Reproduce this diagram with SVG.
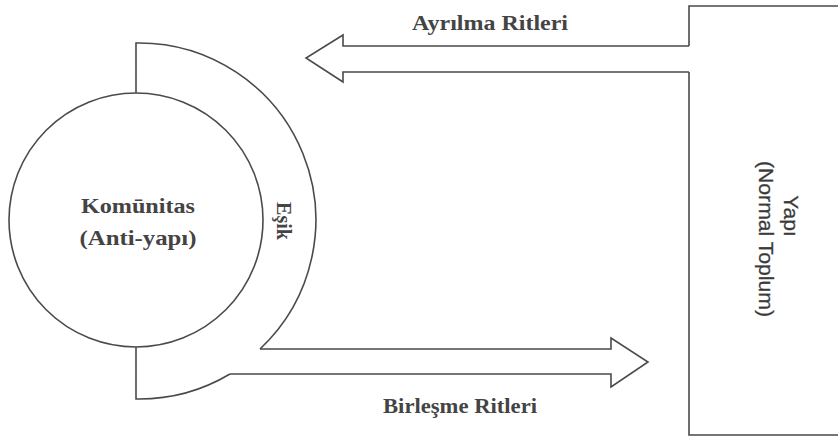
<svg xmlns="http://www.w3.org/2000/svg" width="838" height="441" viewBox="0 0 838 441">
<style>
.ln{fill:none;stroke:#4a4a4a;stroke-width:1.6;stroke-linejoin:miter}
.sf{font-family:"Liberation Serif","DejaVu Serif",serif;font-weight:bold;fill:#444;font-size:20px}
.ss{font-family:"Liberation Sans",Arial,sans-serif;fill:#3a3a3a;font-size:21px;stroke:#3a3a3a;stroke-width:0.3}
</style>
<rect width="838" height="441" fill="#fff"/>
<g id="yapi">
<path class="ln" d="M840,6 H689 V46 M689,72 V435 H840"/>
<g transform="translate(784,216) rotate(90)"><text class="ss" text-anchor="middle" x="0" y="0">Yapı</text></g>
<g transform="translate(759,239) rotate(90)"><text class="ss" text-anchor="middle" x="0" y="0" textLength="156" lengthAdjust="spacingAndGlyphs">(Normal Toplum)</text></g>
</g>
<g id="esik">
<path class="ln" d="M136,93 V43 A177,177 0 0 1 260,349 M230,374 A178,178 0 0 1 136,399 V347"/>
<g transform="translate(277,221) rotate(90)"><text class="sf" text-anchor="middle" x="0" y="0" font-size="18">Eşik</text></g>
</g>
<g id="komunitas">
<circle class="ln" cx="136" cy="220" r="127" fill="#fff"/>
<text class="sf" text-anchor="middle" x="138" y="213" textLength="114" lengthAdjust="spacingAndGlyphs">Komūnitas</text>
<text class="sf" text-anchor="middle" x="138" y="245" textLength="117" lengthAdjust="spacingAndGlyphs">(Anti-yapı)</text>
</g>
<g id="connectors">
<path class="ln" d="M689,46 H343 V35 L306,58 L343,82 V72 H689"/>
<path class="ln" d="M260,349 H611 V338 L648,362 L611,387 V374 H230"/>
<text class="sf" text-anchor="middle" x="490" y="30" textLength="156" lengthAdjust="spacingAndGlyphs">Ayrılma Ritleri</text>
<text class="sf" text-anchor="middle" x="460" y="413" textLength="154" lengthAdjust="spacingAndGlyphs">Birleşme Ritleri</text>
</g>
</svg>
